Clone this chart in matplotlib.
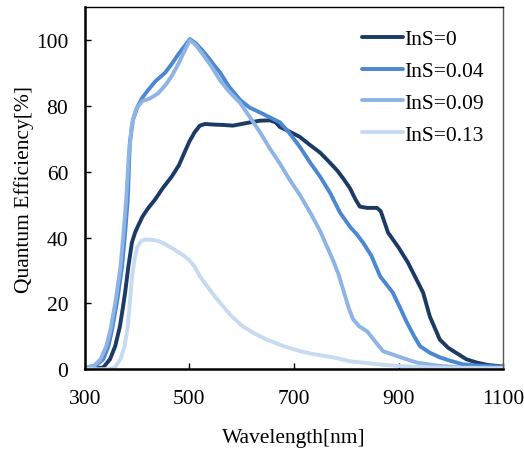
import matplotlib
matplotlib.use("Agg")
import matplotlib.pyplot as plt

plt.rcParams['font.family'] = ['Liberation Serif', 'DejaVu Serif']

labels = ["InS=0", "InS=0.04", "InS=0.09", "InS=0.13"]
colors = ["#1b3a66", "#4c87d2", "#8db4e4", "#c6daf1"]

wl_0 = [300, 335, 348, 358, 367, 372, 377, 383, 390, 396, 401, 410, 420, 434, 449, 466, 480, 491, 500, 510, 520, 530, 549, 565, 583, 600, 616, 635, 654, 665, 673, 690, 711, 730, 750, 769, 783, 794, 807, 818, 826, 840, 859, 866, 880, 900, 918, 932, 947, 960, 979, 995, 1012, 1030, 1050, 1070, 1094, 1100]
qe_0 = [0, 0.5, 3, 7, 13, 18, 23.3, 31, 38.5, 41.5, 43.3, 46.3, 48.7, 51.5, 55, 58.5, 62, 66, 69.2, 72, 74, 74.5, 74.3, 74.2, 74, 74.5, 75, 75.5, 75.6, 75, 73.6, 72.3, 70.6, 68.2, 65.8, 62.7, 60.3, 58, 55, 51.5, 49.4, 49, 49, 48, 41.5, 37, 32.4, 28, 23.3, 16, 9, 6.5, 4.8, 3, 2, 1.3, 0.9, 0.8]

wl_04 = [300, 320, 335, 345, 352, 362, 371, 377, 382, 386, 392, 400, 409, 420, 435, 453, 466, 478, 490, 501, 512, 524, 537, 549, 558, 575, 597, 615, 635, 654, 673, 690, 711, 730, 750, 769, 788, 807, 820, 832, 848, 865, 889, 905, 916, 930, 941, 960, 979, 1000, 1023, 1050, 1080, 1100]
qe_04 = [0.5, 1, 3, 7, 12, 21, 31, 41.5, 51.5, 68.8, 75.8, 79.5, 82.3, 84.6, 87.5, 90, 92.7, 95.5, 98, 100.3, 99, 97, 94.5, 92, 90.3, 86, 81.8, 79.5, 78, 76.5, 75, 72, 67.6, 63, 58.5, 53.6, 47.6, 43.3, 41, 38.5, 34.5, 28.2, 23.3, 18, 14.2, 10, 7, 5, 3.6, 2.5, 1.5, 1.1, 0.9, 0.8]

wl_09 = [300, 317, 330, 341, 349, 359, 368, 374, 379, 384, 390, 398, 410, 424, 440, 455, 466, 478, 490, 501, 512, 524, 543, 558, 575, 597, 616, 635, 654, 673, 690, 711, 731, 750, 763, 775, 786, 794, 805, 813, 825, 840, 855, 870, 897, 935, 979, 1020, 1100]
qe_09 = [0.5, 1, 3, 7, 12, 21, 31, 41.5, 51.5, 65, 74.5, 79, 81.5, 82.2, 83.8, 86.5, 89, 92.5, 96.5, 100, 98.5, 96, 91.8, 87.9, 84.5, 80.9, 76.5, 72, 67, 62.5, 58, 53, 47.6, 42, 37.3, 33, 28.5, 24.2, 18.5, 15.2, 13, 11.5, 8.5, 5.5, 4, 2, 1, 0.5, 0.3]

wl_13 = [300, 345, 357, 368, 376, 382, 386, 390, 395, 400, 407, 415, 428, 440, 453, 470, 491, 500, 510, 520, 535, 549, 558, 580, 602, 625, 648, 680, 711, 740, 775, 807, 832, 860, 897, 950, 1000, 1100]
qe_13 = [0, 0, 0.5, 3, 7, 13, 20, 28, 33.5, 37, 38.8, 39.4, 39.3, 39, 38, 36.5, 34.3, 33, 31.2, 28.2, 25, 22, 20.3, 16.2, 13, 10.8, 9, 7, 5.5, 4.5, 3.6, 2.4, 2, 1.5, 1, 0.6, 0.4, 0.3]

fig = plt.figure(figsize=(5.24, 4.52), dpi=100)
ax = fig.add_axes([0.162, 0.181, 0.798, 0.801])

series = [(wl_0, qe_0), (wl_04, qe_04), (wl_09, qe_09), (wl_13, qe_13)]
for (x, y), lab, c in zip(series, labels, colors):
    ax.plot(x, y, color=c, lw=2.8, label=lab, solid_joinstyle='round', solid_capstyle='round')

ax.set_xlim(300, 1100)
ax.set_ylim(0, 110)
ax.set_xticks([300, 500, 700, 900, 1100])
ax.set_yticks([0, 20, 40, 60, 80, 100])
ax.tick_params(direction='in', labelsize=15.5, length=4, width=1, pad=12)
ax.tick_params(axis='x', pad=14)
for s in ['left', 'bottom']:
    ax.spines[s].set_linewidth(1.8)
for s in ['top', 'right']:
    ax.spines[s].set_linewidth(1.0)
ax.spines['right'].set_color('#555555')

ax.set_xlabel('Wavelength[nm]', fontsize=15.5, labelpad=15)
ax.set_ylabel('Quantum Efficiency[%]', fontsize=15.5, labelpad=1)

leg = ax.legend(loc='upper left', bbox_to_anchor=(0.633, 0.975), frameon=False,
                fontsize=15.5, handlelength=1.9, handletextpad=0.05, labelspacing=0.55,
                borderaxespad=0.2)

fig.savefig('out.png', dpi=100)
